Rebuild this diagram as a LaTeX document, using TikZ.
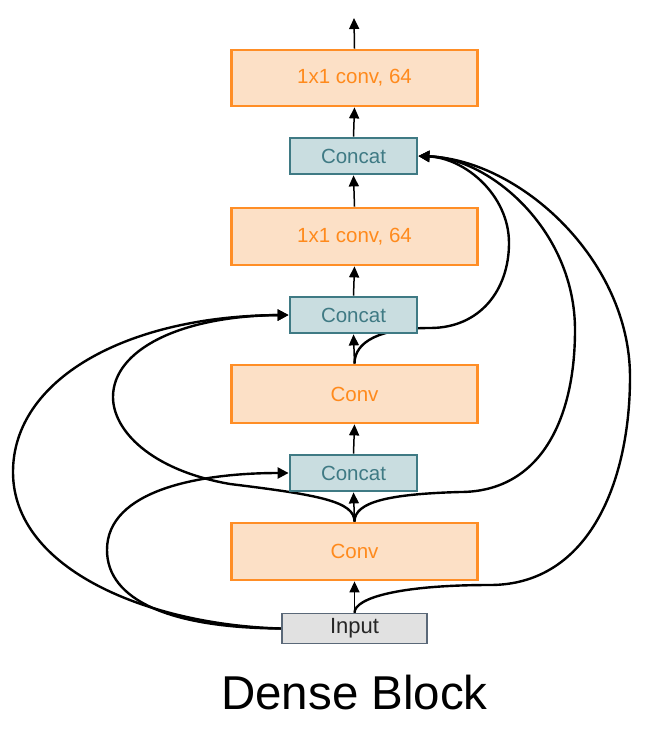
\documentclass[tikz,border=0pt]{standalone}
\usepackage{fontspec}
\setmainfont{Liberation Sans}
\usetikzlibrary{arrows.meta,backgrounds}
\definecolor{orEdge}{HTML}{FF8E26}
\definecolor{orFill}{HTML}{FCE0C6}
\definecolor{orText}{HTML}{FF8A1C}
\definecolor{tlEdge}{HTML}{3F7A84}
\definecolor{tlFill}{HTML}{C9DDE0}
\definecolor{inEdge}{HTML}{5A6878}
\definecolor{inFill}{HTML}{E1E1E1}
\tikzset{
  convbox/.style={draw=orEdge, fill=orFill, line width=2.8pt, text=orText,
    minimum width=246pt, minimum height=56pt, inner sep=0pt,
    font=\fontsize{20.5}{24}\selectfont},
  catbox/.style={draw=tlEdge, fill=tlFill, line width=2.8pt, text=tlEdge,
    minimum width=127pt, minimum height=36pt, inner sep=0pt,
    font=\fontsize{20.5}{24}\selectfont},
  inbox/.style={draw=inEdge, fill=inFill, line width=1.4pt, text=black!85,
    minimum width=145pt, minimum height=30pt, inner sep=0pt,
    font=\fontsize{22}{26}\selectfont},
  uparrow/.style={line width=1.5pt, -{Triangle[width=10pt,length=11pt]}},
  skip/.style={line width=2.4pt, -{Triangle[width=11pt,length=11pt]}},
}
\begin{document}
\begin{tikzpicture}[x=1pt,y=-1pt]
\useasboundingbox (0,0) rectangle (652,734);
\node[convbox] (c4) at (354.5,78) {1x1 conv, 64};
\node[catbox] (cat3) at (353.5,156) {Concat};
\node[convbox, minimum height=57pt] (c3) at (354.5,236.5) {1x1 conv, 64};
\node[catbox] (cat2) at (353.5,315) {Concat};
\node[convbox, minimum height=58pt] (c2) at (354.5,394) {Conv};
\node[catbox] (cat1) at (353.5,473) {Concat};
\node[convbox, minimum height=57pt] (c1) at (354.5,551.5) {Conv};
\node[inbox] (in) at (354.5,628.5) {Input};
\node[font=\fontsize{47.5}{54}\selectfont] (title) at (354.5,693) {Dense Block};
\coordinate (out) at (354,18);

\draw[uparrow] (in.north) -- (c1.south);
\draw[uparrow] (c1.north) -- (cat1.south);
\draw[uparrow] (cat1.north) -- (c2.south);
\draw[uparrow] (c2.north) -- (cat2.south);
\draw[uparrow] (cat2.north) -- (c3.south);
\draw[uparrow] (c3.north) -- (cat3.south);
\draw[uparrow] (cat3.north) -- (c4.south);
\draw[uparrow] (c4.north) -- (out);

\begin{scope}[on background layer]
% right side skips into top Concat
\draw[skip] (c2.north) .. controls +(0,-22) and (380,328) .. (430,328)
  .. controls (480,328) and (509,290) .. (509,243)
  .. controls (509,195) and (465,158) .. (cat3.east);
\draw[skip] (c1.north) .. controls +(0,-20) and (390,494) .. (460,492)
  .. controls (540,492) and (575,420) .. (575,330)
  .. controls (575,230) and (490,158) .. (cat3.east);
\draw[skip] (in.north) .. controls +(0,-15) and (400,585) .. (490,585)
  .. controls (590,585) and (630,480) .. (630,377)
  .. controls (630,260) and (520,160) .. (cat3.east);
% left side skips
\draw[skip] (c1.north) .. controls +(0,-20) and (320,495) .. (230,484)
  .. controls (150,470) and (113,430) .. (113,397)
  .. controls (113,350) and (180,316) .. (cat2.west);
\draw[skip] (in.west) .. controls (150,625) and (13,570) .. (13,472)
  .. controls (13,380) and (125,316) .. (cat2.west);
\draw[skip] (in.west) .. controls (170,628) and (107,600) .. (107,550)
  .. controls (107,490) and (200,473) .. (cat1.west);
\end{scope}
\end{tikzpicture}
\end{document}
